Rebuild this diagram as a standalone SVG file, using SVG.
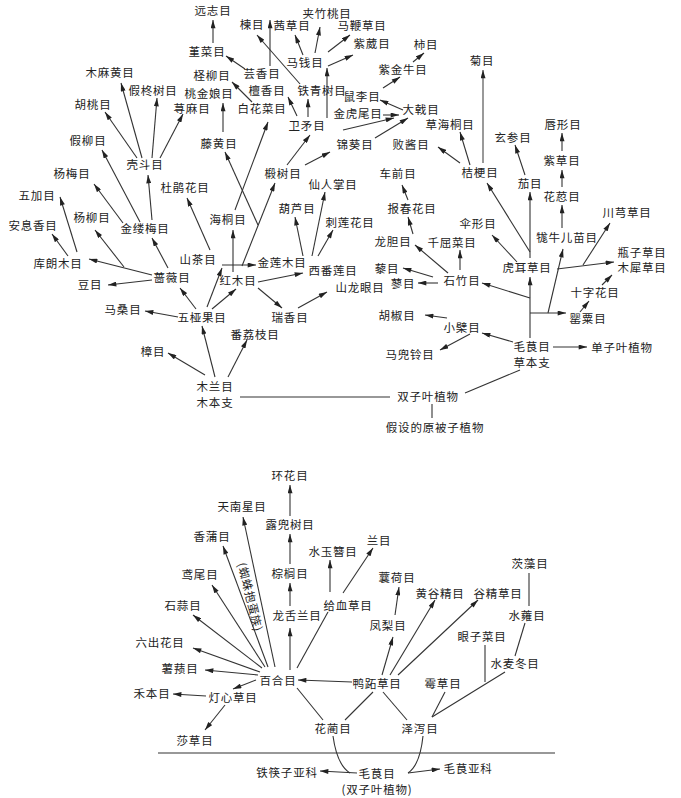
<svg xmlns="http://www.w3.org/2000/svg" width="681" height="798" viewBox="0 0 681 798">
<style>
text{font-family:"Noto Sans CJK SC","Noto Sans CJK TC",sans-serif;font-size:11.5px;fill:#222;text-anchor:middle;dominant-baseline:central;letter-spacing:0.8px}
.c line,.c path{stroke:#333;stroke-width:1.1;fill:none}
.c .a{marker-end:url(#ah)}
.c .g{stroke:#999;stroke-width:2}
</style>
<defs>
<marker id="ah" viewBox="0 0 10 6" markerWidth="9" markerHeight="5" refX="10" refY="3" orient="auto" markerUnits="userSpaceOnUse">
<path d="M0,0 L10,3 L0,6 z" fill="#222"/>
</marker>
</defs>
<rect width="681" height="798" fill="#fff"/>
<g class="c" id="connectors">
<line class="a" x1="205" y1="375" x2="168" y2="353"/>
<line class="a" x1="215" y1="377" x2="202" y2="326"/>
<line class="a" x1="228" y1="377" x2="247" y2="340"/>
<line class="a" x1="178" y1="317" x2="145" y2="311"/>
<line class="a" x1="196" y1="309" x2="180" y2="288"/>
<line class="a" x1="207" y1="307" x2="222" y2="268"/>
<line class="a" x1="212" y1="309" x2="236" y2="289"/>
<line class="a" x1="152" y1="280" x2="108" y2="285"/>
<line class="a" x1="152" y1="275" x2="89" y2="259"/>
<line class="a" x1="124" y1="267" x2="95" y2="230"/>
<line class="a" x1="168" y1="268" x2="152" y2="238"/>
<line class="a" x1="68" y1="256" x2="52" y2="234"/>
<line class="a" x1="77" y1="252" x2="60" y2="197"/>
<line class="a" x1="123" y1="223" x2="94" y2="184"/>
<line class="a" x1="140" y1="222" x2="102" y2="150"/>
<line class="a" x1="152" y1="220" x2="148" y2="175"/>
<line class="a" x1="137" y1="158" x2="105" y2="112"/>
<line class="a" x1="142" y1="158" x2="121" y2="83"/>
<line class="a" x1="152" y1="158" x2="157" y2="98"/>
<line class="a" x1="160" y1="158" x2="183" y2="114"/>
<line class="a" x1="210" y1="250" x2="187" y2="198"/>
<line class="a" x1="233" y1="272" x2="233" y2="230"/>
<line class="a" x1="222" y1="265" x2="256" y2="265"/>
<line class="a" x1="242" y1="266" x2="275" y2="183"/>
<line class="a" x1="258" y1="225" x2="225" y2="152"/>
<line class="a" x1="235" y1="210" x2="268" y2="122"/>
<line class="a" x1="223" y1="132" x2="223" y2="103"/>
<line class="a" x1="252" y1="102" x2="232" y2="82"/>
<line class="a" x1="245" y1="69" x2="226" y2="56"/>
<line class="a" x1="213" y1="43" x2="213" y2="20"/>
<line class="a" x1="270" y1="66" x2="270" y2="20"/>
<line class="a" x1="258" y1="282" x2="303" y2="273"/>
<line class="a" x1="258" y1="288" x2="282" y2="308"/>
<line class="a" x1="298" y1="308" x2="327" y2="292"/>
<line class="a" x1="303" y1="256" x2="295" y2="217"/>
<line class="a" x1="312" y1="256" x2="325" y2="192"/>
<line class="a" x1="318" y1="256" x2="333" y2="230"/>
<line class="a" x1="287" y1="165" x2="310" y2="135"/>
<line class="a" x1="305" y1="165" x2="330" y2="152"/>
<line class="a" x1="297" y1="116" x2="288" y2="97"/>
<line class="a" x1="308" y1="117" x2="308" y2="99"/>
<line class="a" x1="300" y1="84" x2="257" y2="35"/>
<line class="a" x1="327" y1="118" x2="327" y2="68"/>
<line class="a" x1="328" y1="66" x2="353" y2="55"/>
<line class="a" x1="315" y1="53" x2="320" y2="27"/>
<line class="a" x1="303" y1="55" x2="295" y2="35"/>
<line class="a" x1="328" y1="52" x2="350" y2="35"/>
<line class="a" x1="343" y1="130" x2="394" y2="118"/>
<line class="a" x1="383" y1="115" x2="399" y2="115"/>
<line class="a" x1="375" y1="138" x2="408" y2="118"/>
<line class="a" x1="403" y1="110" x2="380" y2="100"/>
<line class="a" x1="383" y1="88" x2="400" y2="77"/>
<line class="a" x1="413" y1="62" x2="424" y2="53"/>
<line class="a" x1="470" y1="165" x2="460" y2="132"/>
<line class="a" x1="460" y1="163" x2="438" y2="147"/>
<line class="a g" x1="483" y1="163" x2="483" y2="70"/>
<line class="a" x1="530" y1="338" x2="530" y2="277"/>
<line class="a" x1="530" y1="258" x2="530" y2="192"/>
<line class="a" x1="530" y1="252" x2="487" y2="183"/>
<line class="a" x1="517" y1="262" x2="492" y2="235"/>
<line class="a" x1="525" y1="175" x2="515" y2="145"/>
<line class="a" x1="562" y1="187" x2="562" y2="170"/>
<line class="a" x1="562" y1="151" x2="562" y2="133"/>
<line class="a" x1="562" y1="228" x2="562" y2="205"/>
<line class="a" x1="530" y1="298" x2="482" y2="283"/>
<line class="a" x1="513" y1="342" x2="482" y2="333"/>
<line class="a" x1="553" y1="347" x2="587" y2="347"/>
<line class="a" x1="530" y1="313" x2="566" y2="313"/>
<line class="a" x1="548" y1="313" x2="563" y2="249"/>
<line class="a" x1="557" y1="269" x2="614" y2="262"/>
<line class="a" x1="583" y1="265" x2="610" y2="223"/>
<line class="a" x1="580" y1="312" x2="589" y2="301"/>
<line class="a" x1="602" y1="285" x2="612" y2="275"/>
<line class="a" x1="460" y1="270" x2="460" y2="250"/>
<line class="a" x1="448" y1="273" x2="415" y2="245"/>
<line class="a" x1="433" y1="277" x2="403" y2="268"/>
<line class="a" x1="438" y1="283" x2="418" y2="283"/>
<line class="a" x1="413" y1="234" x2="408" y2="217"/>
<line class="a" x1="408" y1="200" x2="402" y2="185"/>
<line class="a" x1="447" y1="318" x2="425" y2="315"/>
<line class="a" x1="470" y1="334" x2="440" y2="350"/>
<line x1="240" y1="397" x2="390" y2="397"/>
<line x1="432" y1="404" x2="432" y2="418"/>
<line x1="520" y1="370" x2="465" y2="393"/>
<line class="a" x1="290" y1="670" x2="290" y2="628"/>
<line class="a" x1="290" y1="606" x2="290" y2="583"/>
<line class="a" x1="290" y1="564" x2="290" y2="534"/>
<line class="a" x1="290" y1="516" x2="290" y2="485"/>
<line class="a" x1="260" y1="672" x2="193" y2="648"/>
<line class="a" x1="258" y1="675" x2="205" y2="670"/>
<line class="a" x1="256" y1="680" x2="233" y2="689"/>
<line class="a" x1="262" y1="668" x2="193" y2="615"/>
<line class="a" x1="265" y1="667" x2="212" y2="585"/>
<line class="a" x1="268" y1="667" x2="223" y2="546"/>
<line class="a" x1="275" y1="667" x2="243" y2="517"/>
<line x1="297" y1="668" x2="328" y2="612"/>
<line class="a" x1="330" y1="592" x2="330" y2="560"/>
<line class="a" x1="343" y1="593" x2="373" y2="548"/>
<line class="a" x1="206" y1="696" x2="173" y2="694"/>
<line class="a" x1="225" y1="705" x2="205" y2="730"/>
<line class="a" x1="352" y1="682" x2="298" y2="680"/>
<line class="a" x1="382" y1="675" x2="393" y2="637"/>
<line class="a" x1="395" y1="615" x2="399" y2="587"/>
<line class="a" x1="390" y1="675" x2="435" y2="600"/>
<line class="a" x1="398" y1="675" x2="478" y2="600"/>
<line x1="323" y1="720" x2="297" y2="688"/>
<line x1="345" y1="720" x2="373" y2="692"/>
<line x1="407" y1="720" x2="383" y2="692"/>
<line x1="432" y1="717" x2="445" y2="692"/>
<line x1="432" y1="717" x2="505" y2="672"/>
<line x1="485" y1="645" x2="485" y2="682"/>
<line x1="515" y1="656" x2="525" y2="623"/>
<line x1="529" y1="606" x2="529" y2="573"/>
<line x1="158" y1="753" x2="555" y2="753"/>
<line class="a" x1="357" y1="773" x2="320" y2="771"/>
<line class="a" x1="408" y1="773" x2="440" y2="769"/>
<path d="M333,736 Q337,765 350,773"/>
<path d="M423,736 Q420,765 408,773"/>
</g>
<g id="n001"><text x="213" y="10">远志目</text></g>
<g id="n002"><text x="327" y="13">夹竹桃目</text></g>
<g id="n003"><text x="252" y="24">楝目</text></g>
<g id="n004"><text x="292" y="25">茜草目</text></g>
<g id="n005"><text x="362" y="25">马鞭草目</text></g>
<g id="n006"><text x="372" y="43">紫葳目</text></g>
<g id="n007"><text x="426" y="44">柿目</text></g>
<g id="n008"><text x="207" y="51">堇菜目</text></g>
<g id="n009"><text x="482" y="60">菊目</text></g>
<g id="n010"><text x="305" y="62">马钱目</text></g>
<g id="n011"><text x="403" y="69">紫金牛目</text></g>
<g id="n012"><text x="110" y="72">木麻黄目</text></g>
<g id="n013"><text x="262" y="73">芸香目</text></g>
<g id="n014"><text x="212" y="75">柽柳目</text></g>
<g id="n015"><text x="153" y="90">假柊树目</text></g>
<g id="n016"><text x="267" y="90">檀香目</text></g>
<g id="n017"><text x="322" y="90">铁青树目</text></g>
<g id="n018"><text x="209" y="93">桃金娘目</text></g>
<g id="n019"><text x="362" y="96">鼠李目</text></g>
<g id="n020"><text x="93" y="104">胡桃目</text></g>
<g id="n021"><text x="192" y="108">荨麻目</text></g>
<g id="n022"><text x="262" y="108">白花菜目</text></g>
<g id="n023"><text x="421" y="109">大戟目</text></g>
<g id="n024"><text x="358" y="113">金虎尾目</text></g>
<g id="n025"><text x="450" y="124">草海桐目</text></g>
<g id="n026"><text x="563" y="124">唇形目</text></g>
<g id="n027"><text x="307" y="125">卫矛目</text></g>
<g id="n028"><text x="513" y="137">玄参目</text></g>
<g id="n029"><text x="88" y="140">假柳目</text></g>
<g id="n030"><text x="219" y="143">藤黄目</text></g>
<g id="n031"><text x="355" y="144">锦葵目</text></g>
<g id="n032"><text x="411" y="144">败酱目</text></g>
<g id="n033"><text x="562" y="160">紫草目</text></g>
<g id="n034"><text x="145" y="164">壳斗目</text></g>
<g id="n035"><text x="72" y="173">杨梅目</text></g>
<g id="n036"><text x="283" y="173">椴树目</text></g>
<g id="n037"><text x="398" y="173">车前目</text></g>
<g id="n038"><text x="480" y="172">桔梗目</text></g>
<g id="n039"><text x="530" y="183">茄目</text></g>
<g id="n040"><text x="333" y="184">仙人掌目</text></g>
<g id="n041"><text x="185" y="187">杜鹃花目</text></g>
<g id="n042"><text x="37" y="195">五加目</text></g>
<g id="n043"><text x="562" y="196">花荵目</text></g>
<g id="n044"><text x="412" y="208">报春花目</text></g>
<g id="n045"><text x="297" y="208">葫芦目</text></g>
<g id="n046"><text x="627" y="212">川芎草目</text></g>
<g id="n047"><text x="92" y="217">杨柳目</text></g>
<g id="n048"><text x="228" y="219">海桐目</text></g>
<g id="n049"><text x="350" y="222">刺莲花目</text></g>
<g id="n050"><text x="478" y="223">伞形目</text></g>
<g id="n051"><text x="33" y="225">安息香目</text></g>
<g id="n052"><text x="145" y="228">金缕梅目</text></g>
<g id="n053"><text x="567" y="237">牻牛儿苗目</text></g>
<g id="n054"><text x="393" y="241">龙胆目</text></g>
<g id="n055"><text x="452" y="242">千屈菜目</text></g>
<g id="n056"><text x="642" y="252">瓶子草目</text></g>
<g id="n057"><text x="198" y="259">山茶目</text></g>
<g id="n058"><text x="58" y="263">库朗木目</text></g>
<g id="n059"><text x="282" y="262">金莲木目</text></g>
<g id="n060"><text x="527" y="267">虎耳草目</text></g>
<g id="n061"><text x="642" y="267">木犀草目</text></g>
<g id="n062"><text x="387" y="268">藜目</text></g>
<g id="n063"><text x="333" y="270">西番莲目</text></g>
<g id="n064"><text x="172" y="277">蔷薇目</text></g>
<g id="n065"><text x="238" y="280">红木目</text></g>
<g id="n066"><text x="462" y="280">石竹目</text></g>
<g id="n067"><text x="403" y="283">蓼目</text></g>
<g id="n068"><text x="90" y="284">豆目</text></g>
<g id="n069"><text x="360" y="287">山龙眼目</text></g>
<g id="n070"><text x="595" y="292">十字花目</text></g>
<g id="n071"><text x="123" y="309">马桑目</text></g>
<g id="n072"><text x="202" y="317">五桠果目</text></g>
<g id="n073"><text x="290" y="317">瑞香目</text></g>
<g id="n074"><text x="397" y="315">胡椒目</text></g>
<g id="n075"><text x="588" y="318">罂粟目</text></g>
<g id="n076"><text x="462" y="327">小檗目</text></g>
<g id="n077"><text x="255" y="334">番荔枝目</text></g>
<g id="n078"><text x="532" y="346">毛茛目</text><text x="532" y="362">草本支</text></g>
<g id="n079"><text x="622" y="347">单子叶植物</text></g>
<g id="n080"><text x="153" y="351">樟目</text></g>
<g id="n081"><text x="410" y="354">马兜铃目</text></g>
<g id="n082"><text x="215" y="386">木兰目</text><text x="215" y="402">木本支</text></g>
<g id="n083"><text x="428" y="396">双子叶植物</text></g>
<g id="n084"><text x="435" y="427">假设的原被子植物</text></g>
<g id="m001"><text x="290" y="475">环花目</text></g>
<g id="m002"><text x="242" y="506">天南星目</text></g>
<g id="m003"><text x="290" y="524">露兜树目</text></g>
<g id="m004"><text x="212" y="536">香蒲目</text></g>
<g id="m005"><text x="379" y="540">兰目</text></g>
<g id="m006"><text x="333" y="551">水玉簪目</text></g>
<g id="m007"><text x="530" y="563">茨藻目</text></g>
<g id="m008"><text x="200" y="574">鸢尾目</text></g>
<g id="m009"><text x="290" y="573">棕榈目</text></g>
<g id="m010"><text x="397" y="577">蘘荷目</text></g>
<g id="m011"><text x="440" y="593">黄谷精目</text></g>
<g id="m012"><text x="498" y="593">谷精草目</text></g>
<g id="m013"><text x="183" y="605">石蒜目</text></g>
<g id="m014"><text x="348" y="605">给血草目</text></g>
<g id="m015"><text x="297" y="615">龙舌兰目</text></g>
<g id="m016"><text x="527" y="615">水蕹目</text></g>
<g id="m017"><text x="388" y="625">凤梨目</text></g>
<g id="m018"><text x="482" y="636">眼子菜目</text></g>
<g id="m019"><text x="160" y="642">六出花目</text></g>
<g id="m020"><text x="515" y="663">水麦冬目</text></g>
<g id="m021"><text x="180" y="668">薯蓣目</text></g>
<g id="m022"><text x="278" y="680">百合目</text></g>
<g id="m023"><text x="377" y="683">鸭跖草目</text></g>
<g id="m024"><text x="443" y="683">霉草目</text></g>
<g id="m025"><text x="152" y="693">禾本目</text></g>
<g id="m026"><text x="233" y="697">灯心草目</text></g>
<g id="m027"><text x="333" y="728">花蔺目</text></g>
<g id="m028"><text x="420" y="728">泽泻目</text></g>
<g id="m029"><text x="195" y="740">莎草目</text></g>
<g id="m030"><text x="287" y="772">铁筷子亚科</text></g>
<g id="m031"><text x="377" y="773">毛茛目</text><text x="377" y="789">(双子叶植物)</text></g>
<g id="m032"><text x="468" y="768">毛茛亚科</text></g>
<g id="m033"><text x="0" y="0" transform="translate(251,597) rotate(76)">(蜘蛛抱蛋族)</text></g>
</svg>
